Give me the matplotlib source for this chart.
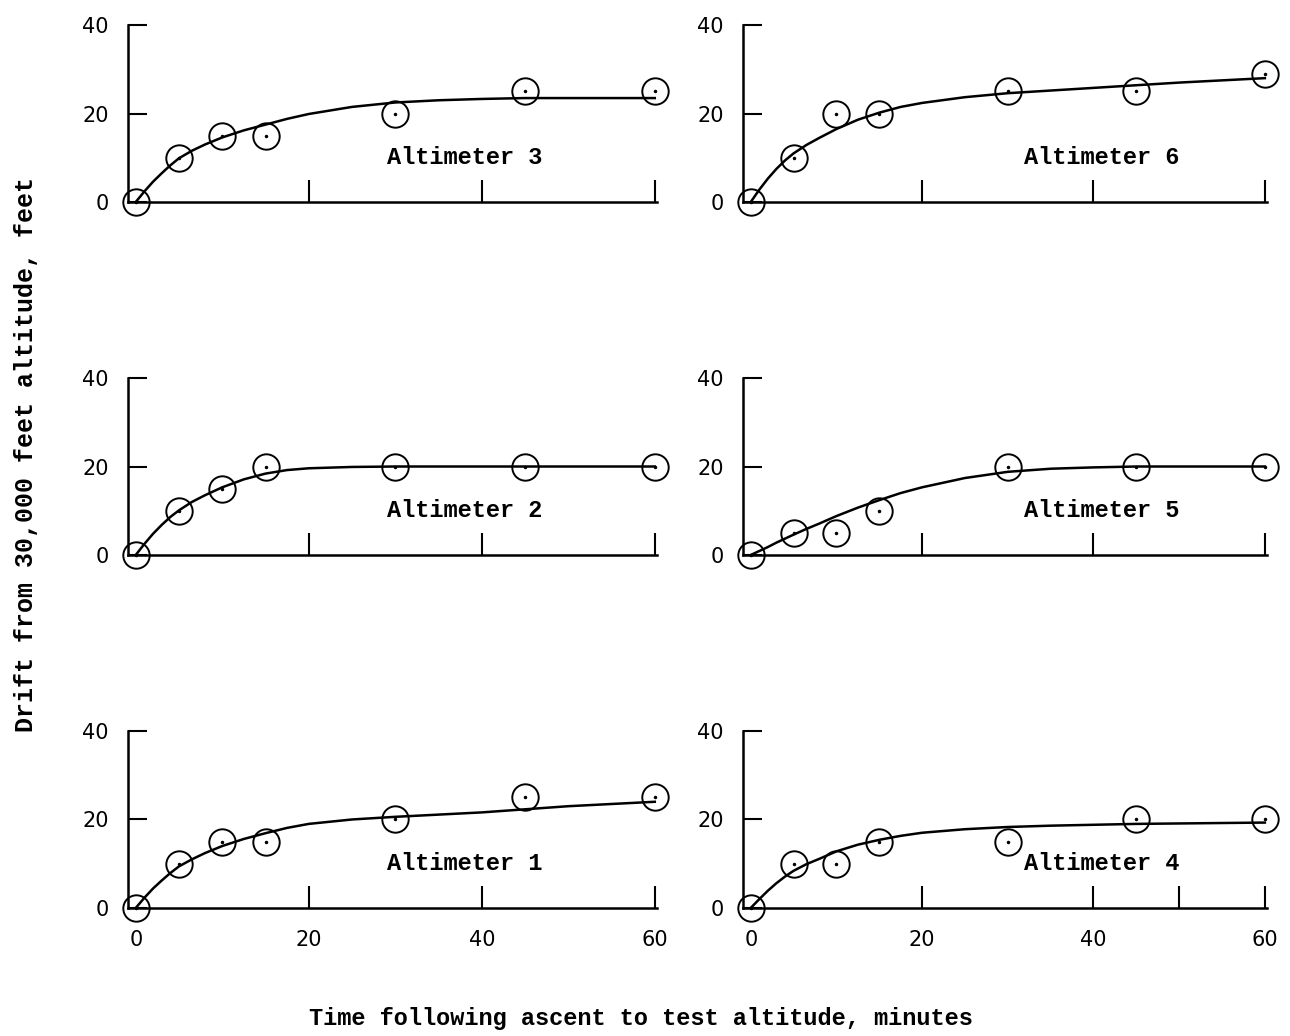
import matplotlib.pyplot as plt

# sampling times, minutes
t = [0, 5, 10, 15, 30, 45, 60]

# measured drift, feet
alt1 = [0, 10, 15, 15, 20, 25, 25]
alt2 = [0, 10, 15, 20, 20, 20, 20]
alt3 = [0, 10, 15, 15, 20, 25, 25]
alt4 = [0, 10, 10, 15, 15, 20, 20]
alt5 = [0, 5, 5, 10, 20, 20, 20]
alt6 = [0, 10, 20, 20, 25, 25, 29]

# faired curves
tc = [0, 1, 2, 3, 4, 5, 6.5, 8, 10, 12.5, 15, 17.5, 20, 25, 30, 35, 40, 45, 50, 55, 60]
fit1 = [0, 2.3, 4.4, 6.2, 7.9, 9.4, 11.0, 12.4, 14.0, 15.6, 16.9, 18.1, 19.0, 20.0,
        20.6, 21.1, 21.6, 22.3, 23.0, 23.5, 24.0]
fit2 = [0, 2.5, 4.8, 6.8, 8.6, 10.1, 12.0, 13.5, 15.3, 17.1, 18.4, 19.2, 19.6, 19.9,
        20.0, 20.0, 20.0, 20.0, 20.0, 20.0, 20.0]
fit3 = [0, 2.4, 4.6, 6.5, 8.3, 9.9, 11.6, 13.0, 14.6, 16.2, 17.5, 18.8, 19.9, 21.5,
        22.5, 23.0, 23.3, 23.5, 23.5, 23.5, 23.5]
fit4 = [0, 2.0, 3.9, 5.6, 7.1, 8.4, 9.9, 11.1, 12.8, 14.3, 15.4, 16.3, 17.0, 17.8,
        18.3, 18.6, 18.8, 19.0, 19.1, 19.2, 19.3]
fit5 = [0, 0.9, 1.8, 2.8, 3.7, 4.6, 5.9, 7.1, 8.8, 10.7, 12.4, 14.0, 15.3, 17.4,
        18.8, 19.5, 19.8, 20.0, 20.0, 20.0, 20.0]
fit6 = [0, 2.8, 5.3, 7.5, 9.4, 11.0, 12.9, 14.5, 16.5, 18.6, 20.2, 21.5, 22.4, 23.7,
        24.6, 25.2, 25.8, 26.4, 27.0, 27.5, 28.0]

panels = [
    (alt3, fit3, "Altimeter 3", [20, 40, 60]),
    (alt6, fit6, "Altimeter 6", [20, 40, 60]),
    (alt2, fit2, "Altimeter 2", [20, 40, 60]),
    (alt5, fit5, "Altimeter 5", [20, 40, 60]),
    (alt1, fit1, "Altimeter 1", [20, 40, 60]),
    (alt4, fit4, "Altimeter 4", [20, 40, 50, 60]),
]

fig = plt.figure(figsize=(12.9, 10.36), dpi=100)
mono = "Liberation Mono"

lefts = [0.0992, 0.576]
widths = [0.4124, 0.4085]
bottoms = [0.805, 0.4643, 0.1236]
height = 0.1708

for i, (y, fit, name, xt) in enumerate(panels):
    row, col = divmod(i, 2)
    ax = fig.add_axes([lefts[col], bottoms[row], widths[col], height])
    ax.set_xlim(-0.9, 60.6)
    ax.set_ylim(0, 40)
    for s in ["top", "right"]:
        ax.spines[s].set_visible(False)
    ax.spines["left"].set_linewidth(1.8)
    ax.spines["bottom"].set_linewidth(1.8)
    ax.spines["bottom"].set_bounds(-0.9, 60.3)

    ax.plot(tc, fit, color="black", lw=1.8, clip_on=False, zorder=3,
            solid_joinstyle="round")
    ax.plot(t, y, "o", ms=19, mfc="none", mec="black", mew=1.4,
            clip_on=False, zorder=4)
    ax.plot(t, y, ".", ms=3, color="black", clip_on=False, zorder=5)

    ax.text(38 if col == 0 else 41, 10, name, fontsize=17, family=mono,
            fontweight="bold", ha="center", va="center")

    ax.set_yticks([0, 20, 40])
    ax.set_xticks(xt)
    ax.tick_params(axis="y", direction="in", length=14, width=1.5, pad=14,
                   labelsize=15)
    ax.tick_params(axis="x", direction="in", length=16, width=1.5, pad=16,
                   labelsize=15)
    if row == 2:
        ax.set_xticks([0] + xt)
        ax.set_xticklabels(["0"] + [str(v) if v != 50 else "" for v in xt])
        ax.xaxis.get_major_ticks()[0].tick1line.set_visible(False)
    else:
        ax.set_xticklabels([])

fig.text(0.02, 0.561, "Drift from 30,000 feet altitude, feet", rotation=90,
         fontsize=18, family=mono, fontweight="bold", ha="center", va="center")
fig.text(0.497, 0.017, "Time following ascent to test altitude, minutes",
         fontsize=17, family=mono, fontweight="bold", ha="center", va="center")

fig.savefig("out.png", dpi=100, facecolor="white")
